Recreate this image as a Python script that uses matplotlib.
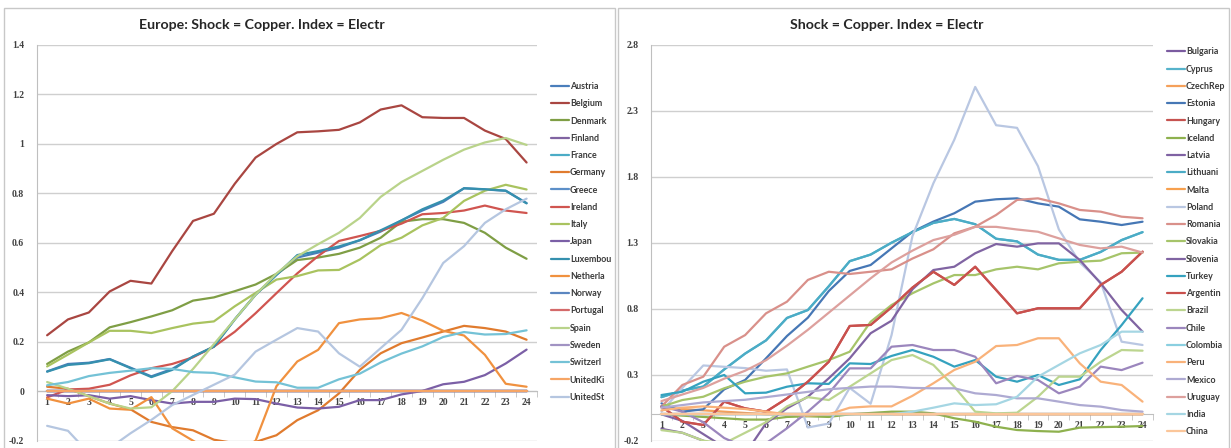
import matplotlib
matplotlib.use("Agg")
import matplotlib.pyplot as plt
from matplotlib.patches import Rectangle

# ---------------- data: Europe panel ----------------
periods = list(range(1, 25))

austria  = [0.08, 0.11, 0.115, 0.13, 0.095, 0.06, 0.09, 0.14, 0.18, 0.29, 0.39, 0.47, 0.54, 0.56, 0.58, 0.61, 0.645, 0.69, 0.73, 0.765, 0.82, 0.815, 0.81, 0.76]
belgium  = [0.226, 0.29, 0.318, 0.403, 0.446, 0.435, 0.566, 0.688, 0.717, 0.838, 0.944, 0.999, 1.046, 1.05, 1.056, 1.086, 1.138, 1.155, 1.107, 1.104, 1.104, 1.053, 1.019, 0.924]
denmark  = [0.11, 0.16, 0.197, 0.258, 0.279, 0.302, 0.327, 0.366, 0.379, 0.404, 0.431, 0.474, 0.53, 0.54, 0.555, 0.58, 0.62, 0.685, 0.695, 0.695, 0.68, 0.64, 0.58, 0.535]
finland  = [0.0] * 24
france   = [0.0] * 24
germany  = [0.018, 0.01, -0.02, -0.05, -0.073, -0.124, -0.145, -0.158, -0.196, -0.21, -0.205, -0.178, -0.117, -0.077, -0.009, 0.086, 0.153, 0.194, 0.217, 0.241, 0.264, 0.255, 0.241, 0.208]
greece   = [0.0] * 24
ireland  = [-0.025, 0.007, 0.01, 0.026, 0.064, 0.093, 0.11, 0.137, 0.18, 0.24, 0.315, 0.396, 0.476, 0.546, 0.607, 0.627, 0.648, 0.677, 0.715, 0.72, 0.73, 0.75, 0.73, 0.72]
italy    = [0.10, 0.148, 0.197, 0.244, 0.244, 0.235, 0.255, 0.273, 0.282, 0.343, 0.397, 0.451, 0.465, 0.488, 0.49, 0.532, 0.59, 0.62, 0.67, 0.70, 0.769, 0.81, 0.834, 0.815]
japan    = [-0.016, -0.02, -0.016, -0.03, -0.02, -0.036, -0.05, -0.043, -0.043, -0.03, -0.032, -0.05, -0.066, -0.07, -0.063, -0.036, -0.036, -0.013, 0.001, 0.028, 0.038, 0.065, 0.112, 0.168]
luxembou = [0.079, 0.106, 0.113, 0.129, 0.093, 0.057, 0.086, 0.14, 0.18, 0.29, 0.39, 0.47, 0.55, 0.566, 0.585, 0.61, 0.65, 0.69, 0.735, 0.77, 0.82, 0.816, 0.81, 0.759]
netherla = [-0.03, -0.05, -0.03, -0.07, -0.075, -0.024, -0.15, -0.2, -0.25, -0.26, -0.2, 0.02, 0.12, 0.167, 0.275, 0.29, 0.295, 0.316, 0.285, 0.244, 0.225, 0.147, 0.03, 0.018]
norway   = [0.0] * 24
portugal = [0.0] * 24
spain    = [0.037, 0.01, -0.02, -0.05, -0.07, -0.065, 0.0, 0.09, 0.19, 0.29, 0.39, 0.475, 0.545, 0.594, 0.64, 0.70, 0.785, 0.845, 0.89, 0.935, 0.976, 1.005, 1.023, 0.995]
sweden   = [0.0] * 24
switzerl = [0.024, 0.037, 0.061, 0.074, 0.083, 0.093, 0.09, 0.077, 0.074, 0.056, 0.039, 0.036, 0.014, 0.014, 0.048, 0.071, 0.116, 0.152, 0.181, 0.219, 0.239, 0.229, 0.231, 0.246]
unitedki = [0.0] * 24
unitedst = [-0.14, -0.16, -0.25, -0.23, -0.17, -0.116, -0.056, -0.015, 0.026, 0.067, 0.16, 0.208, 0.255, 0.241, 0.153, 0.099, 0.174, 0.248, 0.376, 0.518, 0.586, 0.68, 0.735, 0.778]

europe_names = ["Austria", "Belgium", "Denmark", "Finland", "France", "Germany", "Greece",
                "Ireland", "Italy", "Japan", "Luxembou", "Netherla", "Norway", "Portugal",
                "Spain", "Sweden", "Switzerl", "UnitedKi", "UnitedSt"]
europe_values = [austria, belgium, denmark, finland, france, germany, greece, ireland, italy,
                 japan, luxembou, netherla, norway, portugal, spain, sweden, switzerl,
                 unitedki, unitedst]
europe_colors = ["#4A7EBB", "#A94641", "#7F9E45", "#8064A2", "#4BACC6", "#E07B2E", "#5C8FC8",
                 "#D05550", "#A9C35F", "#7B5FA6", "#3590AE", "#F0913F", "#5B86C0", "#D46A6A",
                 "#B9D38A", "#A193C3", "#74C2D6", "#F6A565", "#B5C6E0"]

# ---------------- data: emerging / other panel ----------------
bulgaria = [-0.11, -0.14, -0.2, -0.25, -0.28, -0.3, -0.3, -0.3, -0.3, -0.3, -0.3, -0.3, -0.3, -0.3, -0.3, -0.3, -0.3, -0.3, -0.3, -0.3, -0.3, -0.3, -0.3, -0.3]
cyprus   = [0.13, 0.18, 0.21, 0.34, 0.46, 0.56, 0.73, 0.79, 0.97, 1.16, 1.21, 1.30, 1.38, 1.45, 1.48, 1.44, 1.33, 1.31, 1.21, 1.17, 1.17, 1.23, 1.32, 1.38]
czechrep = [0.05, 0.04, 0.03, 0.02, 0.01, 0.0, 0.0, 0.0, 0.0, 0.0, 0.0, 0.0, 0.0, 0.0, 0.0, 0.0, 0.0, 0.0, 0.0, 0.0, 0.0, 0.0, 0.0, 0.0]
estonia  = [0.083, 0.02, 0.038, 0.189, 0.26, 0.424, 0.593, 0.732, 0.934, 1.086, 1.131, 1.257, 1.383, 1.46, 1.523, 1.611, 1.629, 1.636, 1.598, 1.573, 1.477, 1.459, 1.434, 1.459]
hungary  = [0.06, -0.056, -0.081, 0.096, 0.045, 0.02, 0.121, 0.247, 0.398, 0.669, 0.677, 0.811, 0.96, 1.08, 0.98, 1.118, 0.942, 0.765, 0.803, 0.803, 0.803, 0.98, 1.08, 1.232]
iceland  = [0.0, -0.01, -0.02, -0.03, -0.04, -0.04, -0.02, -0.015, -0.02, 0.0, 0.01, 0.02, 0.02, 0.007, -0.03, -0.056, -0.094, -0.119, -0.127, -0.132, -0.101, -0.097, -0.094, -0.089]
latvia   = [0.0] * 24
lithuani = [0.13, 0.18, 0.21, 0.34, 0.46, 0.56, 0.73, 0.79, 0.97, 1.16, 1.21, 1.30, 1.38, 1.45, 1.48, 1.44, 1.33, 1.31, 1.21, 1.17, 1.17, 1.23, 1.32, 1.38]
malta    = [0.0] * 24
poland   = [0.02, 0.2, 0.37, 0.36, 0.35, 0.33, 0.34, -0.1, -0.07, 0.2, 0.08, 0.6, 1.35, 1.75, 2.08, 2.48, 2.19, 2.17, 1.88, 1.40, 1.15, 1.0, 0.55, 0.525]
romania  = [0.058, 0.222, 0.285, 0.512, 0.6, 0.765, 0.853, 1.018, 1.08, 1.063, 1.08, 1.098, 1.18, 1.25, 1.371, 1.421, 1.51, 1.624, 1.636, 1.598, 1.548, 1.535, 1.497, 1.485]
slovakia = [0.058, 0.108, 0.133, 0.197, 0.247, 0.285, 0.31, 0.361, 0.411, 0.474, 0.701, 0.828, 0.917, 0.992, 1.055, 1.055, 1.098, 1.118, 1.098, 1.144, 1.156, 1.164, 1.22, 1.225]
slovenia = [0.0, -0.05, -0.15, -0.25, -0.3, -0.068, 0.045, 0.133, 0.273, 0.424, 0.614, 0.709, 0.947, 1.093, 1.118, 1.22, 1.29, 1.27, 1.295, 1.295, 1.169, 0.992, 0.79, 0.626]
turkey   = [0.146, 0.171, 0.247, 0.298, 0.159, 0.164, 0.209, 0.235, 0.23, 0.386, 0.381, 0.442, 0.487, 0.436, 0.361, 0.411, 0.285, 0.247, 0.298, 0.222, 0.265, 0.487, 0.676, 0.879]
argentin = [0.06, -0.056, -0.081, 0.096, 0.045, 0.02, 0.121, 0.247, 0.398, 0.669, 0.677, 0.811, 0.96, 1.08, 0.98, 1.118, 0.942, 0.765, 0.803, 0.803, 0.803, 0.98, 1.08, 1.232]
brazil   = [-0.12, -0.14, -0.2, -0.22, -0.14, -0.06, 0.06, 0.13, 0.108, 0.209, 0.31, 0.411, 0.449, 0.374, 0.209, 0.02, 0.007, 0.012, 0.133, 0.285, 0.285, 0.398, 0.487, 0.482]
chile    = [0.06, 0.02, -0.06, -0.18, -0.25, -0.22, -0.106, 0.02, 0.159, 0.348, 0.348, 0.512, 0.525, 0.487, 0.487, 0.436, 0.235, 0.29, 0.26, 0.159, 0.209, 0.361, 0.335, 0.391]
colombia = [0.0] * 24
peru     = [0.03, 0.05, 0.06, 0.05, 0.04, 0.02, 0.0, -0.01, 0.0, 0.05, 0.06, 0.06, 0.14, 0.235, 0.336, 0.398, 0.517, 0.525, 0.576, 0.576, 0.386, 0.247, 0.222, 0.096]
mexico   = [0.05, 0.07, 0.09, 0.1, 0.11, 0.13, 0.15, 0.17, 0.19, 0.2, 0.21, 0.21, 0.2, 0.197, 0.197, 0.159, 0.146, 0.121, 0.121, 0.096, 0.07, 0.058, 0.032, 0.02]
uruguay  = [0.1, 0.15, 0.2, 0.27, 0.33, 0.41, 0.52, 0.64, 0.77, 0.9, 1.03, 1.15, 1.24, 1.32, 1.36, 1.42, 1.42, 1.4, 1.383, 1.333, 1.283, 1.257, 1.27, 1.225]
india    = [0.0, 0.0, 0.0, 0.0, 0.0, 0.0, 0.0, 0.0, 0.0, 0.0, 0.0, 0.0, 0.02, 0.05, 0.083, 0.07, 0.076, 0.133, 0.285, 0.374, 0.462, 0.525, 0.626, 0.626]
china    = [0.0] * 24

other_names = ["Bulgaria", "Cyprus", "CzechRep", "Estonia", "Hungary", "Iceland", "Latvia",
               "Lithuani", "Malta", "Poland", "Romania", "Slovakia", "Slovenia", "Turkey",
               "Argentin", "Brazil", "Chile", "Colombia", "Peru", "Mexico", "Uruguay",
               "India", "China"]
other_values = [bulgaria, cyprus, czechrep, estonia, hungary, iceland, latvia, lithuani, malta,
                poland, romania, slovakia, slovenia, turkey, argentin, brazil, chile, colombia,
                peru, mexico, uruguay, india, china]
other_colors = ["#7B5BA0", "#56B3CB", "#F5A05A", "#4677B5", "#C65350", "#8EB14E", "#7F62A3",
                "#4BACC6", "#F7A04E", "#B9C7E2", "#D9908A", "#A6C46A", "#8064A2", "#35A2BF",
                "#C9504D", "#BCD58F", "#9B86BD", "#8ACFE0", "#F9B27A", "#AEAAD2", "#DDA09D",
                "#A5D6E3", "#FBC69A"]

# ---------------- figure ----------------
W, H = 1231, 448
fig = plt.figure(figsize=(W / 100, H / 100), dpi=100)
fig.patch.set_facecolor("white")

tick_font = dict(family="Liberation Serif", size=7, weight="bold", color="#404040")
legend_font = dict(family="Lato", size=6.4, weight="bold")
title_font = dict(family="Lato", size=10.2, weight="bold", color="#262626")


def px(x0, y0, x1, y1):
    """pixel box (left, top, right, bottom) -> figure rect"""
    return [x0 / W, 1 - y1 / H, (x1 - x0) / W, (y1 - y0) / H]


def chart_frame(x0, y0, x1, y1):
    fig.patches.append(Rectangle((x0 / W, 1 - y1 / H), (x1 - x0) / W, (y1 - y0) / H,
                                 transform=fig.transFigure, fill=False,
                                 edgecolor="#C8C8C8", linewidth=1.0, zorder=0))


def draw_panel(rect, names, values, colors, ylim, yticks, ytick_labels, title, title_x):
    ax = fig.add_axes(rect)
    for name, vals, col in zip(names, values, colors):
        ax.plot(periods, vals, color=col, linewidth=1.6, label=name,
                solid_joinstyle="round", solid_capstyle="round", zorder=3)
    ax.set_xlim(0.5, 24.5)
    ax.set_ylim(*ylim)
    ax.set_yticks(yticks)
    ax.set_yticklabels(ytick_labels, **tick_font)
    ax.yaxis.grid(True, color="#CFCFCF", linewidth=1.0, zorder=0)
    ax.set_axisbelow(True)
    for s in ("top", "right"):
        ax.spines[s].set_visible(False)
    ax.spines["left"].set_color("#BFBFBF")
    ax.spines["bottom"].set_color("#BFBFBF")
    ax.spines["bottom"].set_position(("data", 0))
    ax.spines["bottom"].set_zorder(1)
    ax.tick_params(axis="y", length=0, pad=9)
    # category labels at integers, tick marks between categories
    ax.set_xticks(periods)
    ax.set_xticklabels([str(p) for p in periods], **tick_font)
    ax.set_xticks([p + 0.5 for p in range(0, 25)], minor=True)
    ax.tick_params(axis="x", which="major", length=0, pad=5)
    ax.tick_params(axis="x", which="minor", length=4, color="#BFBFBF", direction="out")
    leg = ax.legend(loc="center left", bbox_to_anchor=(1.028, 0.502), frameon=False,
                    prop=legend_font, handlelength=2.0, handletextpad=0.12,
                    labelspacing=0.93, borderaxespad=0, borderpad=0)
    for t in leg.get_texts():
        t.set_color("#3A3A3A")
    fig.text(title_x / W, 1 - 25 / H, title, ha="center", va="center", **title_font)
    return ax


chart_frame(4, 8, 615, 452)
chart_frame(618, 8, 1229, 452)

draw_panel(px(36.7, 44.7, 537, 440.7), europe_names, europe_values, europe_colors,
           (-0.2, 1.4), [-0.2, 0, 0.2, 0.4, 0.6, 0.8, 1.0, 1.2, 1.4],
           ["-0.2", "0", "0.2", "0.4", "0.6", "0.8", "1", "1.2", "1.4"],
           "Europe: Shock = Copper. Index = Electr", 262)

draw_panel(px(651, 44.7, 1153, 440.7), other_names, other_values, other_colors,
           (-0.2, 2.8), [-0.2, 0.3, 0.8, 1.3, 1.8, 2.3, 2.8],
           ["-0.2", "0.3", "0.8", "1.3", "1.8", "2.3", "2.8"],
           "Shock = Copper. Index = Electr", 887)

fig.savefig("out.png", dpi=100, facecolor="white")
